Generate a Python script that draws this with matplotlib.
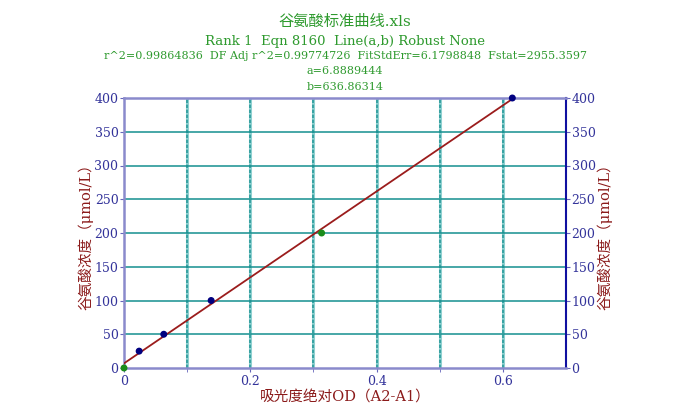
import numpy as np
import matplotlib.pyplot as plt

# data
od = [0.0, 0.024, 0.063, 0.138, 0.313, 0.615]
conc = [0, 25, 50, 100, 200, 400]
pt_colors = ["#1a8c1a", "#000080", "#000080", "#000080", "#1a8c1a", "#000080"]
a = 6.8889444
b = 636.86314

title = "谷氨酸标准曲线.xls"
sub1 = "Rank 1  Eqn 8160  Line(a,b) Robust None"
sub2 = "r^2=0.99864836  DF Adj r^2=0.99774726  FitStdErr=6.1798848  Fstat=2955.3597"
sub3 = "a=6.8889444"
sub4 = "b=636.86314"
xlabel = "吸光度绝对OD（A2-A1）"
ylabel = "谷氨酸浓度（μmol/L）"

fams = ["DejaVu Serif", "Noto Sans CJK SC"]
plt.rcParams["font.family"] = fams

fig = plt.figure(figsize=(6.81, 4.09), dpi=100)
ax = fig.add_axes([124 / 681, 1 - 368 / 409, 442 / 681, 270 / 409])

ax.set_xlim(0, 0.7)
ax.set_ylim(0, 400)

# grid
for gx in np.arange(0.1, 0.7, 0.1):
    ax.axvline(gx, color="#8fd0d0", lw=2.2, zorder=1)
    ax.axvline(gx, color="#2a9a9a", lw=1.2, ls=(0, (2, 1)), zorder=1)
for gy in range(50, 400, 50):
    ax.axhline(gy, color="#159090", lw=1.1, zorder=1)

# fit line
xl = np.array([0, (400 - a) / b])
ax.plot(xl, a + b * xl, color="#9b1c1c", lw=1.3, zorder=3)
ax.scatter(od, conc, s=16, c=pt_colors, zorder=4, clip_on=False)

for s in ["left", "bottom", "top"]:
    ax.spines[s].set_color("#8a8acc")
    ax.spines[s].set_linewidth(1.8)
ax.spines["right"].set_color("#1010a0")
ax.spines["right"].set_linewidth(1.5)

ax.set_xticks([0, 0.2, 0.4, 0.6])
ax.set_xticklabels(["0", "0.2", "0.4", "0.6"])
ax.set_xticks([0.1, 0.3, 0.5], minor=True)
ax.set_yticks(range(0, 401, 50))
ax.tick_params(axis="both", which="both", colors="#6666bb", labelcolor="#33339a",
               labelsize=9, length=3, direction="out")
ax.tick_params(axis="x", pad=2)
ax.tick_params(axis="y", left=True, right=True, labelright=True, pad=1)

ax.set_xlabel(xlabel, color="#8b1a1a", fontsize=10.5, labelpad=1)
ax.set_ylabel(ylabel, color="#8b1a1a", fontsize=10.5, labelpad=1)
ax2 = ax.secondary_yaxis("right")
ax2.set_yticks([])
ax2.spines["right"].set_visible(False)
ax2.set_ylabel(ylabel, color="#8b1a1a", fontsize=10.5, labelpad=22)

green = "#2e9a2e"
fig.text(345 / 681, 1 - 22 / 409, title, color=green, fontsize=11, ha="center", va="center")
fig.text(345 / 681, 1 - 41 / 409, sub1, color=green, fontsize=9.5, ha="center", va="center")
fig.text(345 / 681, 1 - 56 / 409, sub2, color=green, fontsize=8, ha="center", va="center")
fig.text(345 / 681, 1 - 71 / 409, sub3, color=green, fontsize=8, ha="center", va="center")
fig.text(345 / 681, 1 - 87 / 409, sub4, color=green, fontsize=8, ha="center", va="center")

fig.savefig("out.png", dpi=100)
